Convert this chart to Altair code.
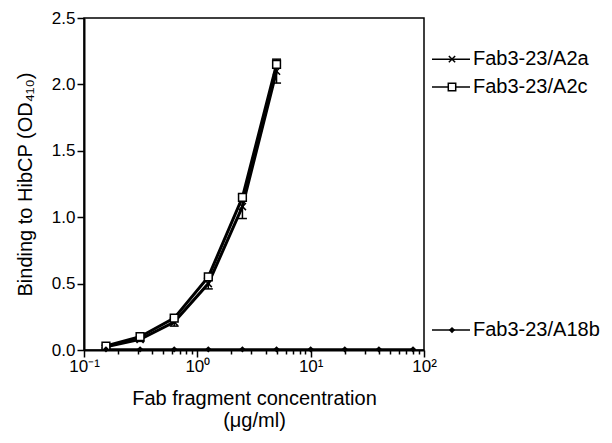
import altair as alt
import pandas as pd

conc = [0.15625, 0.3125, 0.625, 1.25, 2.5, 5]
a2a = [0.025, 0.08, 0.21, 0.50, 1.08, 2.10]
a2a_err = [0.01, 0.015, 0.03, 0.04, 0.09, 0.09]
a2c = [0.03, 0.10, 0.24, 0.55, 1.15, 2.15]
conc18 = [0.15625, 0.3125, 0.625, 1.25, 2.5, 5, 10, 20, 40, 80]
a18b = [0.005, 0.005, 0.005, 0.005, 0.005, 0.005, 0.005, 0.005, 0.005, 0.005]

names = ["Fab3-23/A2a", "Fab3-23/A2c", "Fab3-23/A18b"]
label_y = [2.19, 1.98, 0.15]

x_ticks = [0.1, 0.2, 0.3, 0.4, 0.5, 0.6, 0.7, 0.8, 0.9,
           1, 2, 3, 4, 5, 6, 7, 8, 9,
           10, 20, 30, 40, 50, 60, 70, 80, 90, 100]
y_ticks = [0, 0.25, 0.5, 0.75, 1.0, 1.25, 1.5, 1.75, 2.0, 2.25, 2.5]

df_a = pd.DataFrame({"x": conc, "y": a2a,
                     "lo": [v - e for v, e in zip(a2a, a2a_err)],
                     "hi": [v + e for v, e in zip(a2a, a2a_err)]})
df_c = pd.DataFrame({"x": conc, "y": a2c})
df_18 = pd.DataFrame({"x": conc18, "y": a18b})
df_leg = pd.DataFrame({"name": names, "y": label_y})

FONT = "Liberation Sans"
XSHAPE = "M-1,-1L1,1M-1,1L1,-1"

xscale = alt.Scale(type="log", domain=[0.1, 100], nice=False)
yscale = alt.Scale(domain=[0, 2.5], nice=False, zero=False)

x_axis = alt.Axis(
    values=x_ticks,
    labelExpr="datum.value == 0.1 ? '10⁻¹' : datum.value == 1 ? '10⁰' : datum.value == 10 ? '10¹' : datum.value == 100 ? '10²' : ''",
    title=["Fab fragment concentration", "(μg/ml)"],
    grid=False, domainColor="black", domainWidth=2, tickColor="black", tickWidth=1.5,
    tickSize={"condition": {"test": "datum.value == 0.1 || datum.value == 1 || datum.value == 10 || datum.value == 100", "value": 7}, "value": 4},
    labelFont=FONT, labelFontSize=17, labelColor="black", labelPadding=1,
    titleFont=FONT, titleFontSize=20, titleFontWeight="normal", titleColor="black", titlePadding=14,
    titleLineHeight=22,
    labelFlush=False, labelOverlap=False,
)
y_axis = alt.Axis(
    values=y_ticks,
    labelExpr="(datum.value * 2) % 1 == 0 ? format(datum.value, '.1f') : ''",
    title="Binding to HibCP (OD₄₁₀)",
    grid=False, domainColor="black", domainWidth=2, tickColor="black", tickWidth=1.5,
    tickSize={"condition": {"test": "(datum.value * 2) % 1 == 0", "value": 7}, "value": 4},
    labelFont=FONT, labelFontSize=17, labelColor="black", labelPadding=2,
    titleFont=FONT, titleFontSize=20, titleFontWeight="normal", titleColor="black", titlePadding=16,
    labelFlush=False, labelOverlap=False,
)

X = alt.X("x:Q", scale=xscale, axis=x_axis)
Y = alt.Y("y:Q", scale=yscale, axis=y_axis)

line_a = alt.Chart(df_a).mark_line(color="black", strokeWidth=3).encode(x=X, y=Y)
line_c = alt.Chart(df_c).mark_line(color="black", strokeWidth=3).encode(x=X, y=Y)
line_18 = alt.Chart(df_18).mark_line(color="black", strokeWidth=2, clip=False).encode(x=X, y=Y)

err = alt.Chart(df_a).mark_rule(color="black", strokeWidth=1.5).encode(x=X, y="lo:Q", y2="hi:Q")
cap_lo = alt.Chart(df_a).mark_tick(color="black", thickness=1.5, size=9, orient="horizontal", opacity=1).encode(x=X, y=alt.Y("lo:Q"))
cap_hi = alt.Chart(df_a).mark_tick(color="black", thickness=1.5, size=9, orient="horizontal", opacity=1).encode(x=X, y=alt.Y("hi:Q"))

pt_a = alt.Chart(df_a).mark_point(shape=XSHAPE, filled=False, stroke="black", strokeWidth=1.5, size=50, opacity=1).encode(x=X, y=Y)
pt_c = alt.Chart(df_c).mark_point(shape="square", filled=True, fill="white", stroke="black", strokeWidth=1.5, size=60, opacity=1).encode(x=X, y=Y)
pt_18 = alt.Chart(df_18).mark_point(shape="diamond", filled=True, color="black", size=40, clip=False, opacity=1).encode(x=X, y=Y)

# end labels at the right
leg_y = alt.Y("y:Q", scale=yscale)
leg_line = alt.Chart(df_leg).mark_rule(color="black", strokeWidth=1.5).encode(
    x=alt.value(348), x2=alt.value(386), y=leg_y)
leg_text = alt.Chart(df_leg).mark_text(align="left", baseline="middle", font=FONT, fontSize=20, color="black").encode(
    x=alt.value(389), y=leg_y, text="name:N")
leg_m_a = alt.Chart(df_leg[df_leg.name == names[0]]).mark_point(shape=XSHAPE, filled=False, stroke="black", strokeWidth=1.5, size=40, opacity=1).encode(
    x=alt.value(368), y=leg_y)
leg_m_c = alt.Chart(df_leg[df_leg.name == names[1]]).mark_point(shape="square", filled=True, fill="white", stroke="black", strokeWidth=1.5, size=55, opacity=1).encode(
    x=alt.value(368), y=leg_y)
leg_m_18 = alt.Chart(df_leg[df_leg.name == names[2]]).mark_point(shape="diamond", filled=True, color="black", size=40, opacity=1).encode(
    x=alt.value(368), y=leg_y)

chart = alt.layer(
    line_a, line_c, line_18, err, cap_lo, cap_hi, pt_a, pt_c, pt_18,
    leg_line, leg_text, leg_m_a, leg_m_c, leg_m_18,
).properties(
    width=340, height=332,
    autosize=alt.AutoSizeParams(type="none"),
    padding={"left": 76, "top": 10, "right": 180, "bottom": 85},
    background="white",
).configure_view(stroke="black", strokeWidth=1.5)

chart.save("out.html", embed_options={"renderer": "svg", "actions": False})
